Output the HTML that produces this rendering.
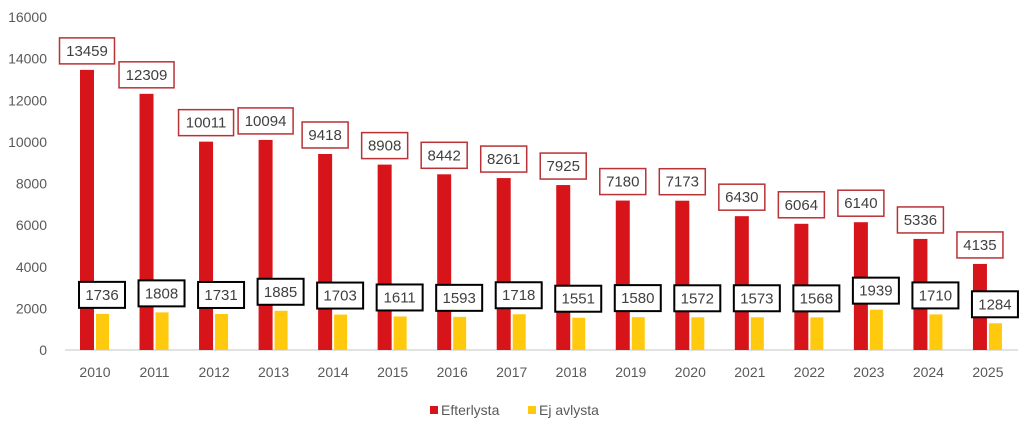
<!DOCTYPE html>
<html><head><meta charset="utf-8"><style>
body{margin:0;background:#fff;width:1024px;height:420px;overflow:hidden;font-family:"Liberation Sans",sans-serif}
</style></head><body>
<svg id="c" width="1024" height="420" xmlns="http://www.w3.org/2000/svg" font-family="Liberation Sans, sans-serif">
<line x1="65" y1="350" x2="1018" y2="350" stroke="#d9d9d9" stroke-width="1.5"/>
<g id="g"></g>
<rect x="430" y="406" width="8" height="8" fill="#d7141a"/>
<text x="441" y="415" font-size="14" fill="#595959">Efterlysta</text>
<rect x="528" y="406" width="8" height="8" fill="#ffc90e"/>
<text x="539" y="415" font-size="14" fill="#595959">Ej avlysta</text>
</svg>
<script>
var r=[13459,12309,10011,10094,9418,8908,8442,8261,7925,7180,7173,6430,6064,6140,5336,4135];
var y=[1736,1808,1731,1885,1703,1611,1593,1718,1551,1580,1572,1573,1568,1939,1710,1284];
var s='',k=333/16000,base=350;
for(var i=0;i<=8;i++){var v=i*2000;s+='<text x="47" y="'+(base-v*k+5)+'" font-size="14" fill="#595959" text-anchor="end">'+v+'</text>';}
for(var i=0;i<16;i++){
var c=95+i*59.53;
var hr=r[i]*k,hy=y[i]*k;
s+='<rect x="'+(c-15)+'" y="'+(base-hr)+'" width="14" height="'+hr+'" fill="#d7141a"/>';
s+='<rect x="'+(c+1)+'" y="'+(base-hy)+'" width="13" height="'+hy+'" fill="#ffc90e"/>';
s+='<text x="'+c+'" y="377" font-size="14" fill="#595959" text-anchor="middle">'+(2010+i)+'</text>';
var w=String(r[i]).length>4?55:46;
var bt=base-hr-6;
s+='<rect x="'+(c-8-w/2)+'" y="'+(bt-26)+'" width="'+w+'" height="26" fill="#fff" stroke="#b83236" stroke-width="1.5"/>';
s+='<text x="'+(c-8)+'" y="'+(bt-8)+'" font-size="15" fill="#404040" text-anchor="middle">'+r[i]+'</text>';
var yt=base-hy-6;
s+='<rect x="'+(c+7-23)+'" y="'+(yt-26)+'" width="46" height="26" fill="#fff" stroke="#000" stroke-width="2"/>';
s+='<text x="'+(c+7)+'" y="'+(yt-8)+'" font-size="15" fill="#404040" text-anchor="middle">'+y[i]+'</text>';
}
document.getElementById('g').innerHTML=s;
</script>
</body></html>
